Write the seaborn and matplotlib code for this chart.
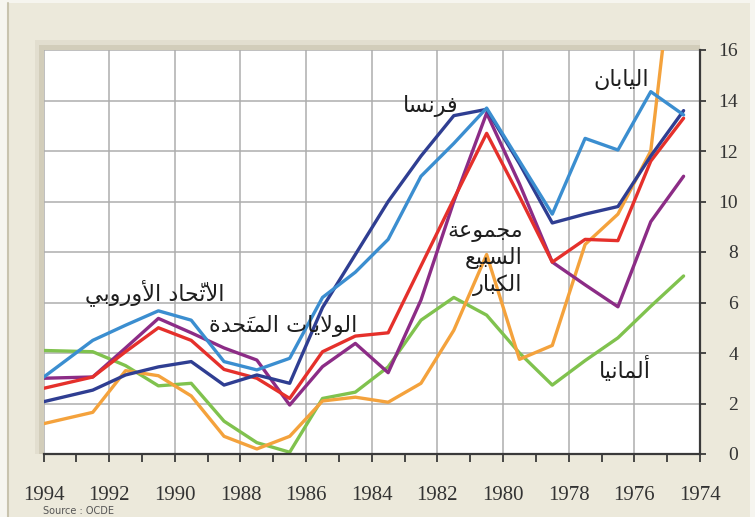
import matplotlib
matplotlib.use("Agg")
import matplotlib.pyplot as plt
from matplotlib.patches import Rectangle
from matplotlib.lines import Line2D
from matplotlib.ticker import MultipleLocator
import pandas as pd
import seaborn as sns

# ---- data: annual inflation (%) ----
years = [1994.0, 1992.5, 1991.5, 1990.5, 1989.5, 1988.5, 1987.5, 1986.5, 1985.5, 1984.5,
         1983.5, 1982.5, 1981.5, 1980.5, 1979.5, 1978.5, 1977.5, 1976.5, 1975.5, 1974.5]

japan = [1.2, 1.65, 3.3, 3.1, 2.3, 0.7, 0.2, 0.7, 2.1, 2.25,
         2.05, 2.8, 4.9, 7.9, 3.75, 4.3, 8.3, 9.5, 12.0, 23.2]
germany = [4.1, 4.05, 3.5, 2.7, 2.8, 1.3, 0.45, 0.07, 2.2, 2.45,
           3.45, 5.3, 6.2, 5.5, 4.0, 2.73, 3.7, 4.6, 5.85, 7.05]
g7 = [2.6, 3.05, 4.05, 5.0, 4.5, 3.35, 3.0, 2.2, 4.05, 4.67,
      4.8, 7.45, 10.1, 12.7, 10.2, 7.6, 8.5, 8.45, 11.6, 13.3]
usa = [3.0, 3.05, 4.2, 5.37, 4.8, 4.2, 3.72, 1.94, 3.46, 4.38,
       3.22, 6.1, 10.0, 13.5, 10.7, 7.6, 6.7, 5.83, 9.2, 11.0]
france = [2.07, 2.53, 3.13, 3.45, 3.66, 2.73, 3.13, 2.8, 5.8, 7.9,
          10.0, 11.8, 13.4, 13.65, 11.5, 9.15, 9.5, 9.8, 11.8, 13.6]
eu = [3.04, 4.5, 5.1, 5.67, 5.3, 3.66, 3.33, 3.79, 6.2, 7.2,
      8.5, 11.0, 12.3, 13.7, 11.6, 9.5, 12.5, 12.04, 14.35, 13.43]

x_ticks = list(range(1994, 1973, -2))
y_ticks = list(range(0, 17, 2))

series = {"germany": germany, "japan": japan, "usa": usa,
          "g7": g7, "france": france, "eu": eu}
palette = {"japan": "#F4A23C", "germany": "#80C24E", "g7": "#E5302B",
           "usa": "#8C2C86", "france": "#2F3E92", "eu": "#3B8ED0"}

# ---- minimal Arabic shaping (contextual forms + right-to-left order) ----
_FORMS = {
    "\u0627": ("\ufe8d", "\ufe8e", None, None),
    "\u0623": ("\ufe83", "\ufe84", None, None),
    "\u0628": ("\ufe8f", "\ufe90", "\ufe91", "\ufe92"),
    "\u0629": ("\ufe93", "\ufe94", None, None),
    "\u062a": ("\ufe95", "\ufe96", "\ufe97", "\ufe98"),
    "\u062c": ("\ufe9d", "\ufe9e", "\ufe9f", "\ufea0"),
    "\u062d": ("\ufea1", "\ufea2", "\ufea3", "\ufea4"),
    "\u062f": ("\ufea9", "\ufeaa", None, None),
    "\u0631": ("\ufead", "\ufeae", None, None),
    "\u0633": ("\ufeb1", "\ufeb2", "\ufeb3", "\ufeb4"),
    "\u0639": ("\ufec9", "\ufeca", "\ufecb", "\ufecc"),
    "\u0641": ("\ufed1", "\ufed2", "\ufed3", "\ufed4"),
    "\u0643": ("\ufed9", "\ufeda", "\ufedb", "\ufedc"),
    "\u0644": ("\ufedd", "\ufede", "\ufedf", "\ufee0"),
    "\u0645": ("\ufee1", "\ufee2", "\ufee3", "\ufee4"),
    "\u0646": ("\ufee5", "\ufee6", "\ufee7", "\ufee8"),
    "\u0648": ("\ufeed", "\ufeee", None, None),
    "\u064a": ("\ufef1", "\ufef2", "\ufef3", "\ufef4"),
}
_LAM_ALEF = {"\u0627": ("\ufefb", "\ufefc"), "\u0623": ("\ufef7", "\ufef8")}
_MARKS = {"\u064e", "\u0651"}


def shape_arabic(text):
    units = []
    for ch in text:
        if ch in _MARKS and units:
            units[-1][1] += ch
        else:
            units.append([ch, ""])
    merged = []
    i = 0
    while i < len(units):
        ch, marks = units[i]
        if ch == "\u0644" and i + 1 < len(units) and units[i + 1][0] in _LAM_ALEF:
            merged.append([("LA", units[i + 1][0]), marks + units[i + 1][1]])
            i += 2
        else:
            merged.append([ch, marks])
            i += 1

    def joins_next(c):
        return isinstance(c, str) and c in _FORMS and _FORMS[c][2] is not None

    def is_letter(c):
        return isinstance(c, tuple) or c in _FORMS

    glyphs = []
    for k, (ch, marks) in enumerate(merged):
        prev = merged[k - 1][0] if k > 0 else None
        nxt = merged[k + 1][0] if k + 1 < len(merged) else None
        left = prev is not None and joins_next(prev)
        right = nxt is not None and is_letter(nxt) and joins_next(ch)
        if isinstance(ch, tuple):
            g = _LAM_ALEF[ch[1]][1 if left else 0]
        elif ch in _FORMS:
            iso, fin, ini, med = _FORMS[ch]
            g = med if (left and right) else fin if left else ini if right else iso
        else:
            g = ch
        # zero-width marks are drawn at the pen position, i.e. at the
        # left (joining) edge of their base letter once laid out RTL
        glyphs.append(marks + g)
    return "".join(reversed(glyphs))


def shape_lines(lines):
    return "\n".join(shape_arabic(s) for s in lines)


# ---- figure ----
sns.set_theme(style="white")
plt.rcParams["font.family"] = ["DejaVu Sans"]

W, H = 755, 517
fig = plt.figure(figsize=(W / 100, H / 100), dpi=100)
fig.patch.set_facecolor("#F6F5EF")


def fx(px):
    return px / W


def fy(py):
    return 1 - py / H


# cream panel with a darker left edge
fig.patches.append(Rectangle((fx(8), 0), fx(742), fy(3), transform=fig.transFigure,
                             facecolor="#ECE9DB", edgecolor="none", zorder=0))
fig.add_artist(Line2D([fx(8), fx(8)], [0, fy(3)], transform=fig.transFigure,
                      color="#C8C3AE", lw=1.5, zorder=1))
# soft shadow around the top/left of the plotting panel
fig.patches.append(Rectangle((fx(35), fy(454)), fx(700 - 35), fy(40) - fy(454),
                             transform=fig.transFigure, facecolor="#E2DECF",
                             edgecolor="none", zorder=1))
fig.patches.append(Rectangle((fx(38.5), fy(454)), fx(700 - 38.5), fy(44.5) - fy(454),
                             transform=fig.transFigure, facecolor="#D2CDBA",
                             edgecolor="none", zorder=1))

ax = fig.add_axes([fx(43.5), fy(454), fx(700) - fx(43.5), fy(50) - fy(454)])
ax.set_zorder(2)
ax.set_facecolor("white")

df = pd.concat(
    [pd.DataFrame({"year": years, "value": vals, "series": name})
     for name, vals in series.items()],
    ignore_index=True,
)
sns.lineplot(data=df, x="year", y="value", hue="series", palette=palette,
             hue_order=list(series.keys()), estimator=None, sort=False,
             linewidth=2.4, legend=False, ax=ax)

ax.set_xlim(1994, 1974)
ax.set_ylim(0, 16)
ax.set_xticks(x_ticks)
ax.set_xticklabels([str(y) for y in x_ticks])
ax.xaxis.set_minor_locator(MultipleLocator(1))
ax.set_yticks(y_ticks)
ax.set_yticklabels([str(v) for v in y_ticks])
ax.yaxis.tick_right()
ax.set_xlabel("")
ax.set_ylabel("")

ax.grid(True, which="major", color="#ADADAD", linewidth=1.1)
ax.set_axisbelow(True)

for side in ("top", "left"):
    ax.spines[side].set_visible(False)
for side in ("bottom", "right"):
    ax.spines[side].set_color("#3A3A3A")
    ax.spines[side].set_linewidth(1.6)

ax.tick_params(axis="x", which="both", direction="out", length=6, width=1.3,
               color="#3A3A3A", bottom=True, top=False)
ax.tick_params(axis="x", which="major", pad=17, labelsize=15, labelcolor="#333333")
ax.tick_params(axis="y", which="major", direction="out", length=4.5, width=1.3,
               color="#3A3A3A", right=True, left=False, pad=23,
               labelsize=14, labelcolor="#333333")
for lab in ax.get_xticklabels() + ax.get_yticklabels():
    lab.set_fontfamily("Liberation Serif")
for lab in ax.get_yticklabels():
    lab.set_horizontalalignment("right")

# ---- series labels ----
lab_kw = dict(fontsize=16, color="#1E1E1E", family=["DejaVu Sans"], zorder=5)
ax.text(1976.4, 14.85, shape_arabic("اليابان"), ha="center", va="center", **lab_kw)
ax.text(1982.2, 13.8, shape_arabic("فرنسا"), ha="center", va="center", **lab_kw)
ax.text(1979.4, 7.72, shape_lines(["مجموعة", "السبيع", "الكبار"]), ha="right",
        va="center", multialignment="right", linespacing=1.3, **lab_kw)
ax.text(1990.6, 6.38, shape_arabic("الاتّحاد الأوروبي"), ha="center", va="center", **lab_kw)
ax.text(1986.7, 5.07, shape_arabic("الولايات المتَحدة"), ha="center", va="center", **lab_kw)
ax.text(1976.3, 3.37, shape_arabic("ألمانيا"), ha="center", va="center", **lab_kw)

fig.text(fx(43), fy(516), "Source : OCDE", ha="left", va="bottom", fontsize=7,
         color="#555555", family="DejaVu Sans")

fig.savefig("out.png", dpi=100, facecolor=fig.get_facecolor())
